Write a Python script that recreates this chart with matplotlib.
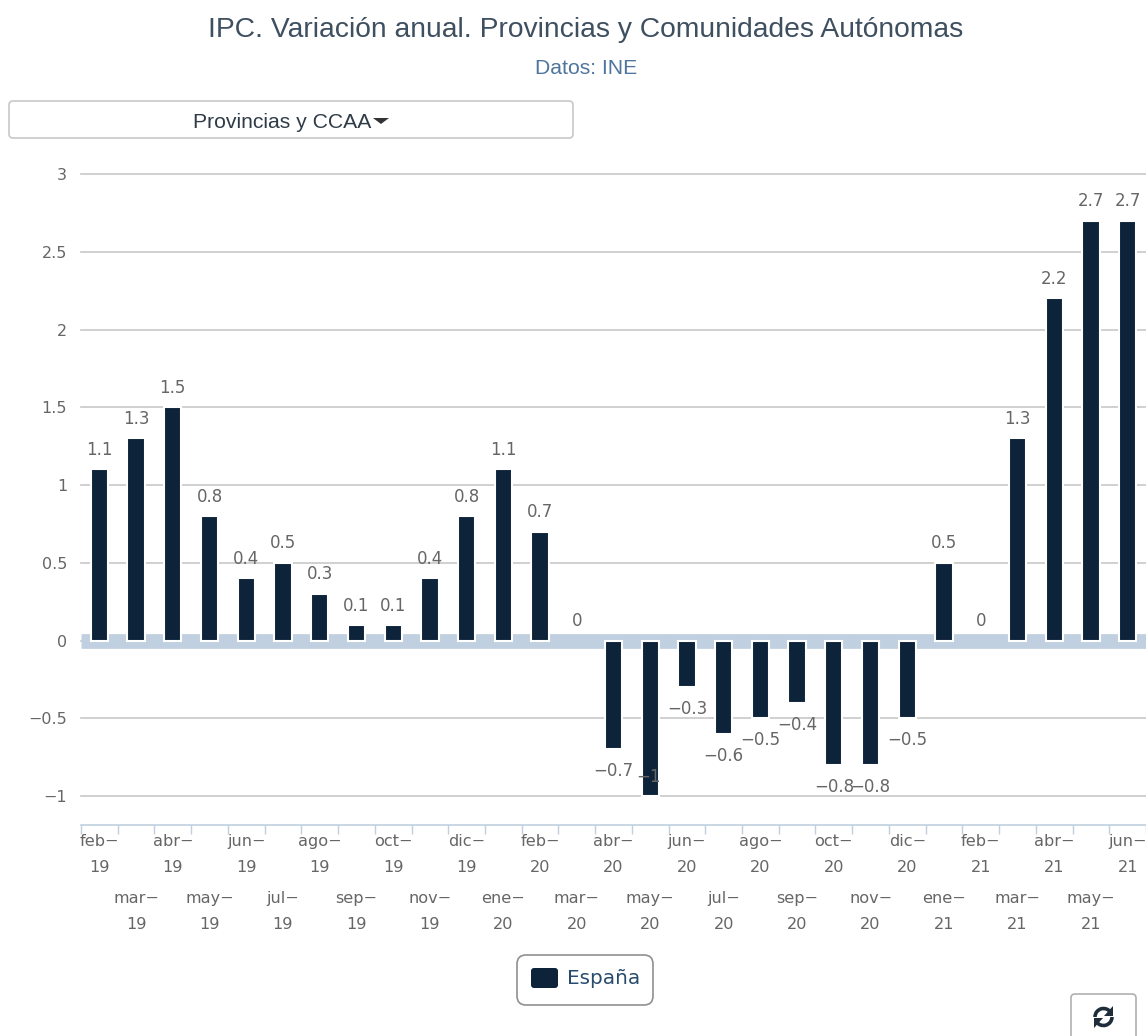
import matplotlib
matplotlib.use("Agg")
import matplotlib.pyplot as plt
from matplotlib.patches import FancyBboxPatch, Polygon, Arc

W, H = 1146, 1036

months = ["feb-19", "mar-19", "abr-19", "may-19", "jun-19", "jul-19", "ago-19", "sep-19", "oct-19", "nov-19",
          "dic-19", "ene-20", "feb-20", "mar-20", "abr-20", "may-20", "jun-20", "jul-20", "ago-20", "sep-20",
          "oct-20", "nov-20", "dic-20", "ene-21", "feb-21", "mar-21", "abr-21", "may-21", "jun-21"]
espana = [1.1, 1.3, 1.5, 0.8, 0.4, 0.5, 0.3, 0.1, 0.1, 0.4,
          0.8, 1.1, 0.7, 0, -0.7, -1, -0.3, -0.6, -0.5, -0.4,
          -0.8, -0.8, -0.5, 0.5, 0, 1.3, 2.2, 2.7, 2.7]
y_ticks = [-1, -0.5, 0, 0.5, 1, 1.5, 2, 2.5, 3]

NAVY = "#0d233a"
AXIS = "#c0d0e0"
GRID = "#c8c8c8"
TEXT = "#666666"
BLUE = "#4d759e"


def minus(v):
    return f"{v:g}".replace("-", "\u2212")


fig = plt.figure(figsize=(W / 100, H / 100), dpi=100, facecolor="white")

# overlay in pixel coords for the title, button, legend
bg = fig.add_axes([0, 0, 1, 1], zorder=3)
bg.set_xlim(0, W)
bg.set_ylim(H, 0)
bg.axis("off")
bg.patch.set_alpha(0)

# plot area, px 81..1146 and 174..825
ax = fig.add_axes([81 / W, 1 - 825 / H, (W - 81) / W, (825 - 174) / H], zorder=2)
ax.set_xlim(-0.5, len(months) - 0.5)
ax.set_ylim(-1.186, 3)
for s in ["top", "left", "right"]:
    ax.spines[s].set_visible(False)
ax.spines["bottom"].set_color(AXIS)
ax.spines["bottom"].set_linewidth(1.2)

ax.set_yticks(y_ticks, [minus(v) for v in y_ticks])
ax.tick_params(axis="y", length=0, pad=10, labelsize=11.5, labelcolor=TEXT)
ax.yaxis.grid(True, color=GRID, linewidth=1.2)
ax.set_axisbelow(True)
for gl in ax.get_ygridlines():
    gl.set_clip_on(False)

# zero line is a thick band in the original
ax.axhline(0, color=AXIS, linewidth=10.6, zorder=1.5, solid_capstyle="butt")

x = list(range(len(months)))

# a zero bar has no visible mark at all, so no white outline either
edge_w = [1.5 if v != 0 else 0 for v in espana]
ax.bar(x, espana, width=0.47, color=NAVY, edgecolor="white", linewidth=edge_w, zorder=3)

for i, v in enumerate(espana):
    y = v + 0.125 if v >= 0 else v - 0.14
    xt = i
    if v == -1:
        # this one doesn't fit under the bar, gets pushed back up over it
        y = -0.88
        xt = i - 0.05
    ax.text(xt, y, minus(v), ha="center", va="center", fontsize=12, color=TEXT, zorder=4)

# ticks sit between the months, labels on the month centres, in two staggered rows
ax.set_xticks([i - 0.5 for i in x] + [len(x) - 0.5])
ax.tick_params(axis="x", which="major", length=6.5, width=1, color=AXIS, direction="out", labelbottom=False)
ax.set_xticks(x, minor=True)
ax.set_xticklabels([m.replace("-", "\u2212\n") for m in months], minor=True, fontsize=11.6, color=TEXT, linespacing=1.95)
ax.tick_params(axis="x", which="minor", length=0)
for i, t in enumerate(ax.xaxis.get_minor_ticks()):
    t.set_pad(6.5 if i % 2 == 0 else 47.5)

# title
bg.text(586, 30, "IPC. Variación anual. Provincias y Comunidades Autónomas", ha="center", va="center",
        family="Liberation Sans", fontsize=20.3, color="#3e4f60")
bg.text(586, 68, "Datos: INE", ha="center", va="center", family="Liberation Sans", fontsize=15.2, color=BLUE)

# dropdown button
bg.add_patch(FancyBboxPatch((9, 101), 564, 37, boxstyle="round,pad=0,rounding_size=4", fc="white", ec="#c8c8c8", lw=1.2))
bg.text(282, 122, "Provincias y CCAA", ha="center", va="center", family="Liberation Sans", fontsize=15.2, color="#2f3b47")
bg.add_patch(Polygon([(373, 118), (389, 118), (381, 124)], closed=True, fc="#333333", ec="none"))

# legend
bg.add_patch(FancyBboxPatch((517, 955), 136, 50, boxstyle="round,pad=0,rounding_size=9", fc="white", ec="#909090", lw=1.2))
bg.add_patch(FancyBboxPatch((531, 968), 27, 20, boxstyle="round,pad=0,rounding_size=3", fc=NAVY, ec="none"))
bg.text(567, 979, "España", ha="left", va="center", fontsize=14.4, color="#274b6d")

# refresh button, runs off the bottom of the image
bg.add_patch(FancyBboxPatch((1071, 994), 65, 60, boxstyle="round,pad=0,rounding_size=4", fc="white", ec="#b0b0b0", lw=1.2))
bg.add_patch(Arc((1103.5, 1017), 17, 17, theta1=180, theta2=330, ec="#1f2d3a", lw=2.6))
bg.add_patch(Arc((1103.5, 1017), 17, 17, theta1=0, theta2=150, ec="#1f2d3a", lw=2.6))
bg.add_patch(Polygon([(1113, 1006), (1113, 1016), (1104, 1016)], closed=True, fc="#1f2d3a", ec="none"))
bg.add_patch(Polygon([(1094, 1028), (1094, 1018), (1103, 1018)], closed=True, fc="#1f2d3a", ec="none"))

fig.savefig("out.png", dpi=100)
